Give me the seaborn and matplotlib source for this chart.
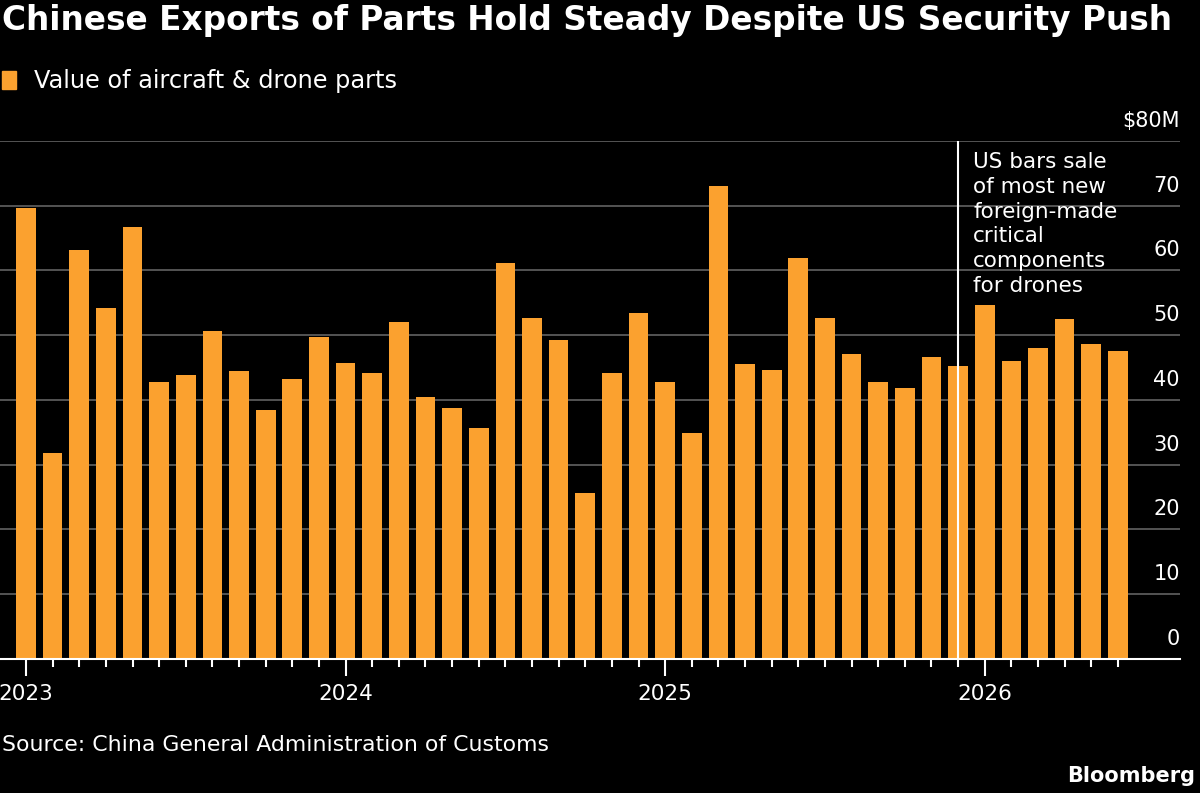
import pandas as pd
import matplotlib.pyplot as plt
import matplotlib.transforms as mtransforms
from matplotlib.patches import Patch
import seaborn as sns

# monthly values, $M, Jan 2023 - Jun 2026
months = pd.date_range("2023-01-01", "2026-06-01", freq="MS").strftime("%Y-%m").tolist()
values = [69.7, 31.8, 63.1, 54.2, 66.7, 42.8, 43.8, 50.7, 44.4, 38.4, 43.2, 49.8,
          45.7, 44.1, 52.0, 40.5, 38.8, 35.7, 61.1, 52.6, 49.2, 25.7, 44.2, 53.5,
          42.8, 34.9, 73.1, 45.6, 44.7, 62.0, 52.7, 47.1, 42.8, 41.9, 46.6, 45.2,
          54.7, 46.0, 48.1, 52.5, 48.6, 47.5]
year_labels = ["2023", "2024", "2025", "2026"]
y_ticks = [0, 10, 20, 30, 40, 50, 60, 70, 80]
y_tick_labels = ["0", "10", "20", "30", "40", "50", "60", "70", "$80M"]
event_month = "2025-12"
event_text = "US bars sale\nof most new\nforeign-made\ncritical\ncomponents\nfor drones"

df = pd.DataFrame({"month": months, "value": values})

BAR = "#FBA12F"
BG = "black"
GRID = "#626262"

sns.set_style("dark", rc={"axes.facecolor": BG, "figure.facecolor": BG})
plt.rcParams["font.family"] = ["DejaVu Sans"]

fig = plt.figure(figsize=(12, 7.93), dpi=100)
ax = fig.add_axes([0, 0.169, 0.9833, 0.6532])

sns.barplot(data=df, x="month", y="value", color=BAR, saturation=1,
            width=0.74, linewidth=0, edgecolor=BAR, ax=ax, zorder=2)

ax.set_xlim(-0.976, 43.33)
ax.set_ylim(0, 80)
ax.set_xlabel("")
ax.set_ylabel("")

# y grid, labels drawn inside on the right
ax.set_yticks(y_ticks)
ax.tick_params(axis="y", length=0, labelleft=False, labelright=False)
ax.yaxis.grid(True, color=GRID, lw=1.2)
ax.xaxis.grid(False)
ax.set_axisbelow(True)
trans = mtransforms.blended_transform_factory(ax.transAxes, ax.transData)
for v, lab in zip(y_ticks, y_tick_labels):
    ax.text(1.0, v + 3.1, lab, transform=trans, ha="right", va="center",
            color="white", fontsize=15)

# x ticks: every month minor, january major
jan_pos = [i for i, m in enumerate(months) if m.endswith("-01")]
ax.set_xticks(range(len(months)), minor=True)
ax.set_xticks(jan_pos)
ax.set_xticklabels(year_labels, color="white", fontsize=15.5)
ax.tick_params(axis="x", which="major", length=12, width=1.5, color="white",
               direction="out", pad=6, bottom=True)
ax.tick_params(axis="x", which="minor", length=6, width=1.5, color="white",
               direction="out", bottom=True)

for s in ["top", "left", "right"]:
    ax.spines[s].set_visible(False)
ax.spines["bottom"].set_color("white")
ax.spines["bottom"].set_linewidth(1.5)
ax.spines["bottom"].set_zorder(3)

# event line + note
ev = months.index(event_month)
ax.axvline(ev, color="white", lw=1.5, zorder=3)
ax.text(ev + 0.56, 78.3, event_text, ha="left", va="top", color="white",
        fontsize=15.5, linespacing=1.3)

fig.text(0.002, 0.995, "Chinese Exports of Parts Hold Steady Despite US Security Push",
         ha="left", va="top", color="white", fontsize=23.6, fontweight="bold")
fig.legend(handles=[Patch(facecolor=BAR, edgecolor=BAR)],
           labels=["Value of aircraft & drone parts"],
           loc="upper left", bbox_to_anchor=(-0.016, 0.94), frameon=False,
           handlelength=0.55, handleheight=0.75, handletextpad=0.75,
           labelcolor="white", fontsize=17.3)
fig.text(0.002, 0.06, "Source: China General Administration of Customs",
         ha="left", va="center", color="white", fontsize=15.8)
fig.text(0.996, 0.022, "Bloomberg", ha="right", va="center", color="white",
         fontsize=15, fontweight="bold")

fig.savefig("out.png", dpi=100, facecolor=BG)
